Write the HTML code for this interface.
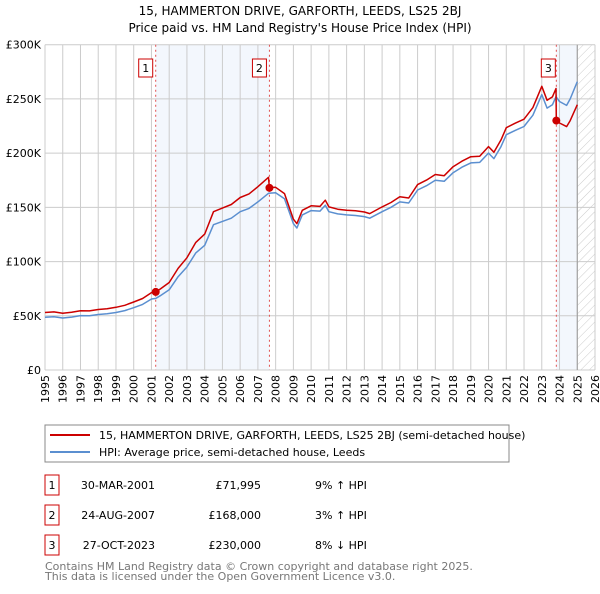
<!DOCTYPE html>
<html><head><meta charset="utf-8">
<style>
body{margin:0;background:#fff;font-family:"DejaVu Sans","Liberation Sans",sans-serif;}
svg text{font-family:"DejaVu Sans","Liberation Sans",sans-serif;}
</style></head>
<body>
<svg id="chart" width="600" height="590" xmlns="http://www.w3.org/2000/svg">
<defs>
<pattern id="hatch" width="6" height="6" patternUnits="userSpaceOnUse" patternTransform="rotate(45)">
<line x1="0" y1="0" x2="0" y2="6" stroke="#ccc" stroke-width="1"/>
</pattern>
</defs>
<text x="300" y="15" text-anchor="middle" font-size="12" fill="#000">15, HAMMERTON DRIVE, GARFORTH, LEEDS, LS25 2BJ</text>
<text x="300" y="32" text-anchor="middle" font-size="12" fill="#000">Price paid vs. HM Land Registry's House Price Index (HPI)</text>
<g id="grid"></g>
<g id="marks"></g>
<g id="axes"></g>
<rect x="45" y="425" width="464" height="37" fill="#fff" stroke="#888" stroke-width="1"/>
<line x1="50" y1="435" x2="90" y2="435" stroke="#cc0000" stroke-width="2"/>
<text x="99" y="439" font-size="11">15, HAMMERTON DRIVE, GARFORTH, LEEDS, LS25 2BJ (semi-detached house)</text>
<line x1="50" y1="452" x2="90" y2="452" stroke="#5b8fd0" stroke-width="2"/>
<text x="99" y="456" font-size="11">HPI: Average price, semi-detached house, Leeds</text>
<g id="table" font-size="11"></g>
<text x="45" y="570" font-size="11" fill="#777">Contains HM Land Registry data © Crown copyright and database right 2025.</text>
<text x="45" y="580" font-size="11" fill="#777">This data is licensed under the Open Government Licence v3.0.</text>
</svg>
<script>
const hpiDates=[1995,1995.5,1996,1996.5,1997,1997.5,1998,1998.5,1999,1999.5,2000,2000.5,2001,2001.25,2001.5,2002,2002.5,2003,2003.5,2004,2004.5,2005,2005.5,2006,2006.5,2007,2007.6,2008,2008.5,2009,2009.2,2009.5,2010,2010.5,2010.8,2011,2011.5,2012,2012.5,2013,2013.3,2014,2014.5,2015,2015.5,2016,2016.5,2017,2017.5,2018,2018.5,2019,2019.5,2020,2020.3,2020.7,2021,2021.5,2022,2022.5,2023,2023.3,2023.6,2023.8,2024,2024.4,2024.6,2025];
const hpiValues=[48600,49200,48000,48800,50200,50000,51200,51800,53000,54800,57500,60500,65500,66000,68500,74000,86000,95000,108000,115000,134000,137000,140000,146000,149000,155000,163000,163500,158000,135000,131000,143000,147000,146500,152000,146000,144000,143000,142500,141500,140000,146000,150000,155000,154000,166000,170000,175000,174000,182000,187000,191000,191500,200000,195000,206000,217000,221000,224600,235000,254000,241500,244600,252000,247600,244000,250000,266000];
const priceDates=[1995,1995.5,1996,1996.5,1997,1997.5,1998,1998.5,1999,1999.5,2000,2000.5,2001,2001.24,2001.5,2002,2002.5,2003,2003.5,2004,2004.5,2005,2005.5,2006,2006.5,2007,2007.6,2007.65,2008,2008.5,2009,2009.2,2009.5,2010,2010.5,2010.8,2011,2011.5,2012,2012.5,2013,2013.3,2014,2014.5,2015,2015.5,2016,2016.5,2017,2017.5,2018,2018.5,2019,2019.5,2020,2020.3,2020.7,2021,2021.5,2022,2022.5,2023,2023.3,2023.6,2023.8,2023.82,2024,2024.4,2024.6,2025];
const priceValues=[53000,53600,52300,53200,54700,54500,55800,56400,57800,59700,62700,65900,71400,71995,74700,80700,93700,103500,117700,125300,146000,149300,152600,159100,162400,169000,177700,168000,168500,162700,139100,135000,147300,151400,150900,156600,150400,148300,147300,146800,145700,144200,150400,154500,159700,158600,171000,175100,180300,179200,187500,192600,196700,197200,206000,200900,212200,223500,227600,231300,242000,261600,248700,251900,259600,230000,227800,224500,230000,244700];
const sales=[[2001.24,71995],[2007.65,168000],[2023.82,230000]];
const yTicks=[0,50000,100000,150000,200000,250000,300000];
const yTickLabels=["£0","£50K","£100K","£150K","£200K","£250K","£300K"];
const saleLabels=["1","2","3"];
const saleDateText=["30-MAR-2001","24-AUG-2007","27-OCT-2023"];
const salePriceText=["£71,995","£168,000","£230,000"];
const saleDiffText=["9% ↑ HPI","3% ↑ HPI","8% ↓ HPI"];

const X0=45,X1=595,Y0=370,Y1=44.7;
const xs=y=>X0+(y-1995)/(2026-1995)*(X1-X0);
const ys=v=>Y0-v/300000*(Y0-Y1);
const NS="http://www.w3.org/2000/svg";
function mk(parent,tag,attrs){const e=document.createElementNS(NS,tag);for(const k in attrs)e.setAttribute(k,attrs[k]);parent.appendChild(e);return e;}
const grid=document.getElementById('grid'),marks=document.getElementById('marks'),axes=document.getElementById('axes'),table=document.getElementById('table');

let r=mk(grid,'rect',{x:xs(sales[0][0]),y:Y1,width:xs(sales[1][0])-xs(sales[0][0]),height:Y0-Y1,fill:'#eef3fc',opacity:'0.7'});


r=mk(grid,'rect',{x:xs(sales[2][0]),y:Y1,width:xs(2025)-xs(sales[2][0]),height:Y0-Y1,fill:'#eef3fc',opacity:'0.7'});


r=mk(grid,'rect',{x:xs(2025),y:Y1,width:X1-xs(2025),height:Y0-Y1,fill:'url(#hatch)'});


for(let yr=1995;yr<=2026;yr++){
  const g=mk(grid,'line',{x1:xs(yr),x2:xs(yr),y1:Y1,y2:Y0,stroke:'#ccc','stroke-width':1});
  
  
  const tx=xs(yr)+4, ty=Y0+5;
  const t=mk(axes,'text',{x:tx,y:ty,'text-anchor':'end','font-size':11,transform:'rotate(-90 '+tx+' '+ty+')'});
  t.textContent=yr;
  
  
}
yTicks.forEach((v,i)=>{
  const g=mk(grid,'line',{x1:X0,x2:X1,y1:ys(v),y2:ys(v),stroke:'#ccc','stroke-width':1});
  
  
  const t=mk(axes,'text',{x:X0-4,y:ys(v)+4,'text-anchor':'end','font-size':11});
  t.textContent=yTickLabels[i];
  
  
});
const fut=mk(grid,'line',{x1:xs(2025),x2:xs(2025),y1:Y1,y2:Y0,stroke:'#999','stroke-width':1});


sales.forEach((s,i)=>{
  const l=mk(grid,'line',{x1:xs(s[0]),x2:xs(s[0]),y1:Y1,y2:Y0,stroke:'#e05050','stroke-width':1,'stroke-dasharray':'2,3'});
  
  
});
function pathOf(d,v){return d.map((x,i)=>(i?'L':'M')+xs(x).toFixed(1)+','+ys(v[i]).toFixed(1)).join('');}
const hp=mk(marks,'path',{d:pathOf(hpiDates,hpiValues),fill:'none',stroke:'#5b8fd0','stroke-width':1.5,'stroke-linejoin':'round'});


const pp=mk(marks,'path',{d:pathOf(priceDates,priceValues),fill:'none',stroke:'#cc0000','stroke-width':1.5,'stroke-linejoin':'round'});


sales.forEach((s,i)=>{
  const c=mk(marks,'circle',{cx:xs(s[0]),cy:ys(s[1]),r:4,fill:'#cc0000'});
  
  
  const bx=xs(s[0])-(i<2?10:8)-7;
  const b=mk(marks,'rect',{x:bx,y:59,width:14,height:18,fill:'#fff',stroke:'#cc0000','stroke-width':1});
  
  
  const t=mk(marks,'text',{x:bx+7,y:72,'text-anchor':'middle','font-size':11});
  t.textContent=saleLabels[i];
  
  
  const ry=475+i*30;
  const tb=mk(table,'rect',{x:45,y:ry,width:14,height:20,fill:'#fff',stroke:'#cc0000','stroke-width':1});
  
  
  const cells=[[52,'middle',saleLabels[i]],[155,'end',saleDateText[i]],[261,'end',salePriceText[i]],[315,'start',saleDiffText[i]]];
  cells.forEach((c,j)=>{
    const tt=mk(table,'text',{x:c[0],y:ry+14,'text-anchor':c[1]});
    tt.textContent=c[2];
    
    
  });
});
</script>
</body></html>
